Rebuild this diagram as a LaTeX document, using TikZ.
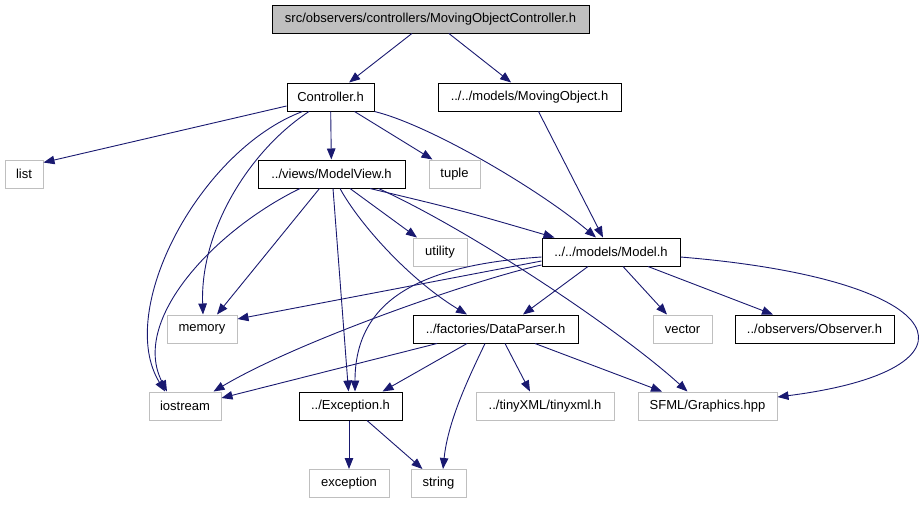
\documentclass[tikz,border=0pt]{standalone}
\usepackage{fontspec}
\setmainfont{Liberation Sans}
\usetikzlibrary{arrows.meta}
\definecolor{edgec}{HTML}{191970}
\definecolor{graybd}{HTML}{BFBFBF}
\begin{document}
\begin{tikzpicture}[x=1pt,y=-1pt,
  box/.style={draw=black, line width=1pt, minimum height=28pt, inner sep=0pt, font=\fontsize{13}{15}\selectfont},
  ext/.style={box, draw=graybd},
  e/.style={draw=edgec, line width=0.9pt, -{Triangle[length=11pt,width=8.5pt]}},
]
\useasboundingbox (0,0) rectangle (920,504);
\node[box, fill=graybd, minimum width=317pt] (top) at (430.5,19) {src/observers/controllers/MovingObjectController.h};
\node[box, minimum width=87pt] (ctrl) at (330.5,97) {Controller.h};
\node[box, minimum width=183pt] (mov) at (529.5,97) {../../models/MovingObject.h};
\node[ext, minimum width=38pt] (list) at (24,174) {list};
\node[box, minimum width=147pt] (mview) at (331.5,174) {../views/ModelView.h};
\node[ext, minimum width=51pt] (tuple) at (454.5,174) {tuple};
\node[ext, minimum width=54pt] (utility) at (440,252) {utility};
\node[box, minimum width=138pt] (model) at (611,252) {../../models/Model.h};
\node[ext, minimum width=70pt] (memory) at (202,329) {memory};
\node[box, minimum width=165pt] (dparser) at (495.5,329) {../factories/DataParser.h};
\node[ext, minimum width=59pt] (vector) at (682.5,329) {vector};
\node[box, minimum width=159pt] (observer) at (814.5,329) {../observers/Observer.h};
\node[ext, minimum width=72pt] (iostream) at (185,406) {iostream};
\node[box, minimum width=103pt] (exh) at (350.5,406) {../Exception.h};
\node[ext, minimum width=138pt] (tinyxml) at (545,406) {../tinyXML/tinyxml.h};
\node[ext, minimum width=139pt] (sfml) at (707.5,406) {SFML/Graphics.hpp};
\node[ext, minimum width=80pt] (exception) at (349,483.5) {exception};
\node[ext, minimum width=55pt] (string) at (438.5,483.5) {string};

\draw[e] (top) -- (ctrl);
\draw[e] (top) -- (mov);
\draw[e] ([yshift=-9pt]ctrl.west) -- ([yshift=-3pt]list.north east);
\draw[e] ([xshift=-28pt]ctrl.south) .. controls (200,150) and (115,310) .. ([xshift=-20pt]iostream.north);
\draw[e] ([xshift=-21.5pt]ctrl.south) .. controls (250,150) and (200,230) .. ([xshift=1pt]memory.north);
\draw[e] (ctrl) -- (mview);
\draw[e] ([xshift=24pt]ctrl.south) -- ([xshift=4pt]tuple.north west);
\draw[e] (ctrl.south east) .. controls (430,125) and (540,190) .. ([xshift=-15pt]model.north);
\draw[e] ([xshift=9pt]mov.south) -- ([xshift=-8pt]model.north);
\draw[e] ([xshift=-31.5pt]mview.south) .. controls (215,230) and (130,320) .. ([xshift=-18pt]iostream.north);
\draw[e] ([xshift=-12pt]mview.south) -- ([xshift=15pt]memory.north);
\draw[e] ([xshift=1.5pt]mview.south) -- ([xshift=-2pt]exh.north);
\draw[e] ([xshift=8.5pt]mview.south) .. controls (360,225) and (410,280) .. ([xshift=-28.5pt]dparser.north);
\draw[e] ([xshift=18.5pt]mview.south) -- ([xshift=-23pt]utility.north);
\draw[e] ([xshift=38.5pt]mview.south) .. controls (460,210) .. ([xshift=13pt]model.north west);
\draw[e] ([xshift=47pt]mview.south) .. controls (470,230) and (620,330) .. ([xshift=-20pt]sfml.north);
\draw[e] ([yshift=-9pt]model.west) -- ([yshift=10pt]memory.east);
\draw[e] ([yshift=-13pt]model.west) .. controls (480,278) and (300,340) .. ([xshift=-8pt]iostream.north east);
\draw[e] ([yshift=-5pt]model.west) .. controls (420,265) and (355,300) .. ([xshift=4.5pt]exh.north);
\draw[e] ([xshift=-23pt]model.south) -- ([xshift=27.5pt]dparser.north);
\draw[e] ([xshift=12pt]model.south) -- ([xshift=-15.5pt]vector.north);
\draw[e] ([xshift=37pt]model.south) -- ([xshift=-41.5pt]observer.north);
\draw[e] ([yshift=-5pt]model.east) .. controls (960,280) and (990,370) .. ([yshift=9pt]sfml.east);
\draw[e] ([xshift=-58.5pt]dparser.south) -- ([yshift=8pt]iostream.east);
\draw[e] ([xshift=-28.5pt]dparser.south) -- ([xshift=-20pt]exh.north east);
\draw[e] ([xshift=-10.5pt]dparser.south) .. controls (470,375) and (448,420) .. ([xshift=4.5pt]string.north);
\draw[e] ([xshift=9.5pt]dparser.south) -- ([xshift=-15pt]tinyxml.north);
\draw[e] ([xshift=39.5pt]dparser.south) -- ([xshift=-45.5pt]sfml.north);
\draw[e] ([xshift=-1.5pt]exh.south) -- (exception.north);
\draw[e] ([xshift=16.5pt]exh.south) -- ([xshift=12pt]string.north west);
\end{tikzpicture}
\end{document}
